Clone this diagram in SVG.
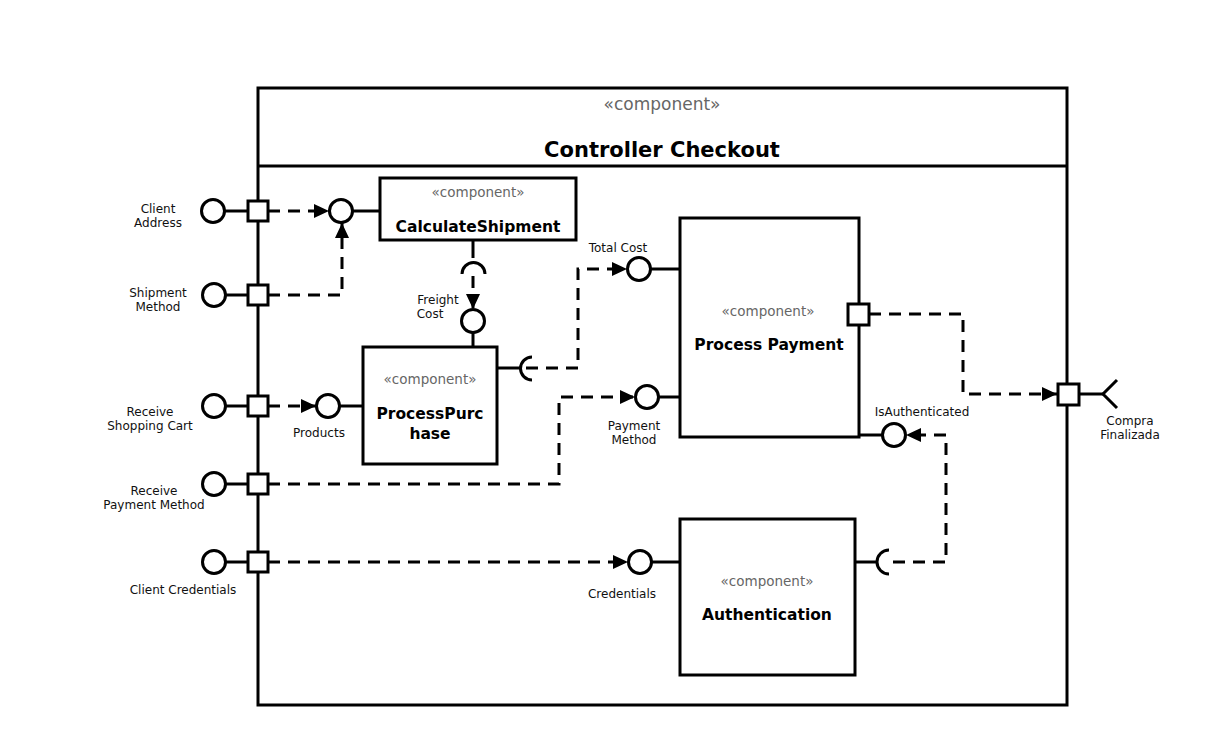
<svg xmlns="http://www.w3.org/2000/svg" width="1214" height="754" viewBox="0 0 1214 754">
<style>
.box{fill:#fff;stroke:#000;stroke-width:3}
.ln{fill:none;stroke:#000;stroke-width:3}
.dash{fill:none;stroke:#000;stroke-width:3;stroke-dasharray:12 8}
.lbl{font-family:"DejaVu Sans",Verdana,sans-serif;font-size:12px;fill:#111;text-anchor:middle}
.st{font-family:"DejaVu Sans",Verdana,sans-serif;font-size:13.5px;fill:#666;text-anchor:middle}
.nm{font-family:"DejaVu Sans",Verdana,sans-serif;font-size:15.5px;font-weight:bold;fill:#000;text-anchor:middle}
</style>
<defs>
<marker id="arr" markerUnits="userSpaceOnUse" markerWidth="16" markerHeight="14" refX="15" refY="7" orient="auto">
<path d="M0,0 L15,7 L0,14 Z" fill="#000"/>
</marker>
</defs>
<rect width="1214" height="754" fill="#fff"/>

<g id="controller-checkout">
<rect class="box" x="258" y="88" width="809" height="617"/>
<line class="ln" x1="258" y1="166" x2="1067" y2="166"/>
<text class="st" x="662" y="110" style="font-size:17px">«component»</text>
<text class="nm" x="662" y="157" style="font-size:21px">Controller Checkout</text>
</g>

<g id="calculate-shipment">
<rect class="box" x="380" y="178" width="196" height="62"/>
<text class="st" x="478" y="197">«component»</text>
<text class="nm" x="478" y="232">CalculateShipment</text>
</g>

<g id="process-purchase">
<rect class="box" x="363" y="347" width="134" height="117"/>
<text class="st" x="430" y="384">«component»</text>
<text class="nm" x="430" y="419">ProcessPurc</text>
<text class="nm" x="430" y="439">hase</text>
</g>

<g id="process-payment">
<rect class="box" x="680" y="218" width="179" height="219"/>
<text class="st" x="768" y="316">«component»</text>
<text class="nm" x="769" y="350">Process Payment</text>
</g>

<g id="authentication">
<rect class="box" x="680" y="519" width="175" height="156"/>
<text class="st" x="767" y="586">«component»</text>
<text class="nm" x="767" y="620">Authentication</text>
</g>

<g id="port-client-address">
<line class="ln" x1="225" y1="211" x2="248" y2="211"/>
<circle class="box" cx="213" cy="211" r="11.5"/>
<rect class="box" x="248" y="201" width="20" height="20"/>
<text class="lbl" x="158" y="213">Client</text>
<text class="lbl" x="158" y="227">Address</text>
</g>

<g id="port-shipment-method">
<line class="ln" x1="226" y1="295" x2="248" y2="295"/>
<circle class="box" cx="214" cy="295" r="11.5"/>
<rect class="box" x="248" y="285" width="20" height="20"/>
<text class="lbl" x="158" y="297">Shipment</text>
<text class="lbl" x="158" y="311">Method</text>
</g>

<g id="port-receive-shopping-cart">
<line class="ln" x1="226" y1="406" x2="248" y2="406"/>
<circle class="box" cx="214" cy="406" r="11.5"/>
<rect class="box" x="248" y="396" width="20" height="20"/>
<text class="lbl" x="150" y="416">Receive</text>
<text class="lbl" x="150" y="430">Shopping Cart</text>
</g>

<g id="port-receive-payment-method">
<line class="ln" x1="226" y1="484" x2="248" y2="484"/>
<circle class="box" cx="214" cy="484" r="11.5"/>
<rect class="box" x="248" y="474" width="20" height="20"/>
<text class="lbl" x="154" y="495">Receive</text>
<text class="lbl" x="154" y="509">Payment Method</text>
</g>

<g id="port-client-credentials">
<line class="ln" x1="226" y1="562" x2="248" y2="562"/>
<circle class="box" cx="214" cy="562" r="11.5"/>
<rect class="box" x="248" y="552" width="20" height="20"/>
<text class="lbl" x="183" y="594">Client Credentials</text>
</g>

<g id="if-calc-provided">
<line class="ln" x1="352" y1="211" x2="380" y2="211"/>
<circle class="box" cx="341" cy="211" r="11.5"/>
</g>

<g id="if-calc-required">
<line class="ln" x1="473" y1="240" x2="473" y2="258"/>
<path class="ln" d="M462,274 A11.5,11.5 0 0 1 485,274"/>
</g>

<g id="if-freight-cost">
<circle class="box" cx="473" cy="321" r="11.5"/>
<line class="ln" x1="473" y1="333" x2="473" y2="347"/>
<text class="lbl" x="438" y="304">Freight</text>
<text class="lbl" x="430" y="318">Cost</text>
</g>

<g id="if-products">
<circle class="box" cx="328" cy="406" r="11.5"/>
<line class="ln" x1="340" y1="406" x2="363" y2="406"/>
<text class="lbl" x="319" y="437">Products</text>
</g>

<g id="if-purchase-required">
<line class="ln" x1="497" y1="368" x2="521" y2="368"/>
<path class="ln" d="M532,357 A11.5,11.5 0 0 0 532,380"/>
</g>

<g id="if-total-cost">
<circle class="box" cx="639" cy="269" r="11.5"/>
<line class="ln" x1="651" y1="269" x2="680" y2="269"/>
<text class="lbl" x="618" y="252">Total Cost</text>
</g>

<g id="if-payment-method">
<circle class="box" cx="647" cy="397" r="11.5"/>
<line class="ln" x1="659" y1="397" x2="681" y2="397"/>
<text class="lbl" x="634" y="430">Payment</text>
<text class="lbl" x="634" y="444">Method</text>
</g>

<g id="port-payment-out">
<rect class="box" x="848" y="304" width="21" height="21"/>
</g>

<g id="if-is-authenticated">
<line class="ln" x1="859" y1="435" x2="882" y2="435"/>
<circle class="box" cx="894" cy="435" r="11.5"/>
<text class="lbl" x="922" y="416">IsAuthenticated</text>
</g>

<g id="if-auth-required">
<line class="ln" x1="855" y1="562" x2="877" y2="562"/>
<path class="ln" d="M889,550 A12,12 0 0 0 889,574"/>
</g>

<g id="if-credentials">
<circle class="box" cx="640" cy="562" r="11.5"/>
<line class="ln" x1="652" y1="562" x2="680" y2="562"/>
<text class="lbl" x="622" y="598">Credentials</text>
</g>

<g id="port-compra-finalizada">
<line class="ln" x1="1079" y1="394" x2="1103" y2="394"/>
<path class="ln" d="M1117,380 L1103,394 L1117,408"/>
<rect class="box" x="1058" y="384" width="21" height="21"/>
<text class="lbl" x="1130" y="425">Compra</text>
<text class="lbl" x="1130" y="439">Finalizada</text>
</g>

<g id="connectors">
<path class="dash" d="M268,211 L329,211" marker-end="url(#arr)"/>
<path class="dash" d="M268,295 L342,295 L342,223" marker-end="url(#arr)"/>
<path class="dash" d="M473,276 L473,309" marker-end="url(#arr)"/>
<path class="dash" d="M268,406 L316,406" marker-end="url(#arr)"/>
<path class="dash" d="M526,368 L578,368 L578,269 L627,269" marker-end="url(#arr)"/>
<path class="dash" d="M268,484 L559,484 L559,397 L635,397" marker-end="url(#arr)"/>
<path class="dash" d="M268,562 L628,562" marker-end="url(#arr)"/>
<path class="dash" d="M869,314 L963,314 L963,394 L1057,394" marker-end="url(#arr)"/>
<path class="dash" d="M893,562 L946,562 L946,435 L906,435" marker-end="url(#arr)"/>
</g>
</svg>
